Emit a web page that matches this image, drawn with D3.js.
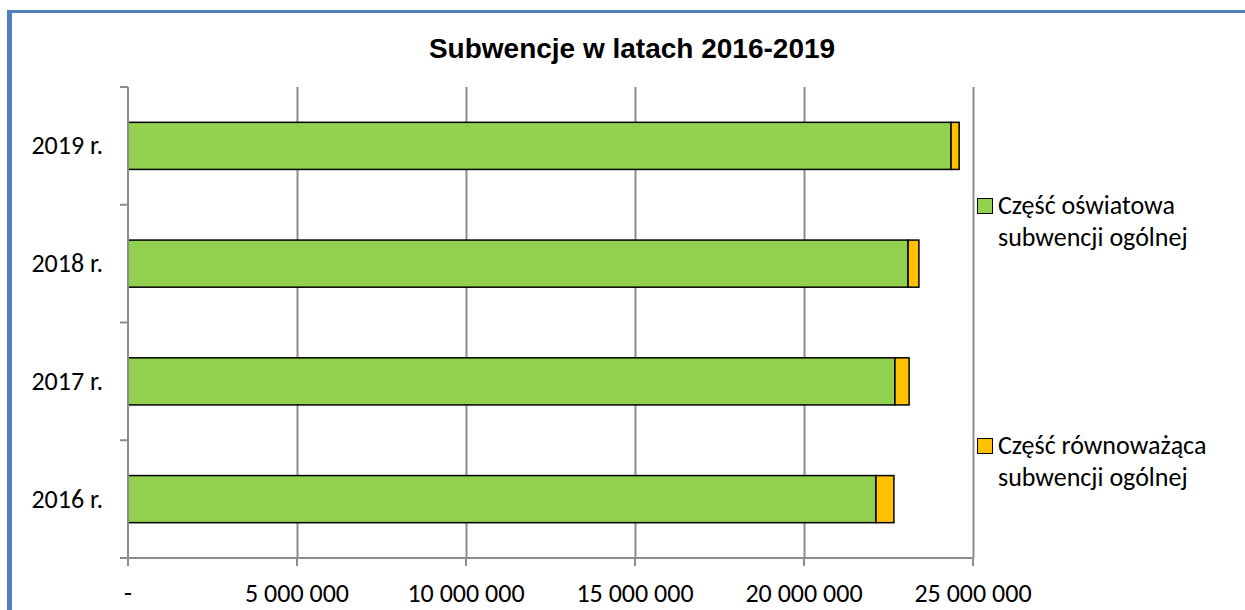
<!DOCTYPE html>
<html>
<head>
<meta charset="UTF-8">
<script src="https://d3js.org/d3.v7.min.js"></script>
<style>
  body { margin: 0; background: #fff; }
  text { font-family: Calibri, Carlito, Lato, "Open Sans", sans-serif; }
</style>
</head>
<body>
<svg></svg>
<script>
// data
var years = ["2016 r.", "2017 r.", "2018 r.", "2019 r."];
var oswiatowa = [22130000, 22690000, 23080000, 24350000];
var rownowazaca = [530000, 420000, 320000, 240000];
var seriesNames = ["Część oświatowa\nsubwencji ogólnej", "Część równoważąca\nsubwencji ogólnej"];
var seriesColors = ["#92D050", "#FFC000"];
var xTicks = [0, 5000000, 10000000, 15000000, 20000000, 25000000];

var W = 1245, H = 610;
var plot = {left: 128, right: 973, top: 87, bottom: 558};
var fs = 26;

var svg = d3.select("svg").attr("width", W).attr("height", H);

// frame
svg.append("line").attr("x1", 9.5).attr("x2", 9.5).attr("y1", 10).attr("y2", H)
  .attr("stroke", "#4F81BD").attr("stroke-width", 5);
svg.append("line").attr("x1", 7).attr("x2", W).attr("y1", 11.5).attr("y2", 11.5)
  .attr("stroke", "#4F81BD").attr("stroke-width", 3);

var x = d3.scaleLinear().domain([0, 25000000]).range([plot.left, plot.right]);
var y = d3.scaleBand().domain(years.slice().reverse()).range([plot.top, plot.bottom]).paddingInner(0.6).paddingOuter(0.3);

// grid
svg.append("g").selectAll("line").data(xTicks.slice(1)).enter().append("line")
  .attr("x1", d => Math.round(x(d)) + 0.5).attr("x2", d => Math.round(x(d)) + 0.5)
  .attr("y1", plot.top).attr("y2", plot.bottom)
  .attr("stroke", "#8c8c8c").attr("stroke-width", 2);

// bars
var rows = years.map((yr, i) => ({yr: yr, a: oswiatowa[i], b: rownowazaca[i]}));
var g = svg.append("g");
g.selectAll("rect.a").data(rows).enter().append("rect").attr("class", "a")
  .attr("x", d => x(0)).attr("y", d => y(d.yr))
  .attr("width", d => x(d.a) - x(0)).attr("height", y.bandwidth())
  .attr("fill", seriesColors[0]).attr("stroke", "#000").attr("stroke-width", 1.5);
g.selectAll("rect.b").data(rows).enter().append("rect").attr("class", "b")
  .attr("x", d => x(d.a)).attr("y", d => y(d.yr))
  .attr("width", d => x(d.a + d.b) - x(d.a)).attr("height", y.bandwidth())
  .attr("fill", seriesColors[1]).attr("stroke", "#000").attr("stroke-width", 1.5);

// y axis
var yAxis = svg.append("g").attr("transform", "translate(" + plot.left + ",0)");
yAxis.append("line").attr("x1", 0).attr("x2", 0).attr("y1", plot.top).attr("y2", plot.bottom + 8)
  .attr("stroke", "#8c8c8c").attr("stroke-width", 2);
var yEdges = d3.range(years.length + 1).map(i => plot.top + i * (plot.bottom - plot.top) / years.length);
yAxis.selectAll("line.t").data(yEdges).enter().append("line").attr("class", "t")
  .attr("x1", -8).attr("x2", 0).attr("y1", d => d).attr("y2", d => d)
  .attr("stroke", "#8c8c8c").attr("stroke-width", 2);
yAxis.selectAll("text").data(years).enter().append("text")
  .attr("x", -25).attr("y", d => y(d) + y.bandwidth() / 2 + 8.5)
  .attr("text-anchor", "end")
  .attr("font-size", fs).attr("fill", "#000").text(d => d);

// x axis
var fmt = function(d) {
  if (d === 0) return "-";
  return d3.format(",")(d).replace(/,/g, " ");
};
var xAxis = svg.append("g").attr("transform", "translate(0," + plot.bottom + ")");
xAxis.append("line").attr("x1", plot.left - 8).attr("x2", plot.right).attr("y1", 0).attr("y2", 0)
  .attr("stroke", "#8c8c8c").attr("stroke-width", 2);
xAxis.selectAll("line.t").data(xTicks).enter().append("line").attr("class", "t")
  .attr("x1", d => x(d)).attr("x2", d => x(d)).attr("y1", 0).attr("y2", 8)
  .attr("stroke", "#8c8c8c").attr("stroke-width", 2);
xAxis.selectAll("text").data(xTicks).enter().append("text")
  .attr("x", d => x(d)).attr("y", 44).attr("text-anchor", "middle")
  .attr("font-size", fs).attr("fill", "#000").text(fmt);

// title
svg.append("text").attr("x", 632).attr("y", 58).attr("text-anchor", "middle")
  .style("font-family", "'Liberation Sans', Arial, sans-serif")
  .attr("font-weight", "bold").attr("font-size", 28).text("Subwencje w latach 2016-2019");

// legend
var legY = [198, 438];
var leg = svg.append("g").selectAll("g").data(seriesNames).enter().append("g")
  .attr("transform", (d, i) => "translate(977," + legY[i] + ")");
leg.append("rect").attr("x", 0.5).attr("y", 0.5).attr("width", 15).attr("height", 15)
  .attr("fill", (d, i) => seriesColors[i]).attr("stroke", "#000").attr("stroke-width", 1);
leg.each(function(d) {
  var lines = d.split("\n");
  d3.select(this).selectAll("text").data(lines).enter().append("text")
    .attr("x", 21).attr("y", (l, j) => 16 + j * 32)
    .attr("font-size", fs).attr("fill", "#000").text(l => l);
});
</script>
</body>
</html>
